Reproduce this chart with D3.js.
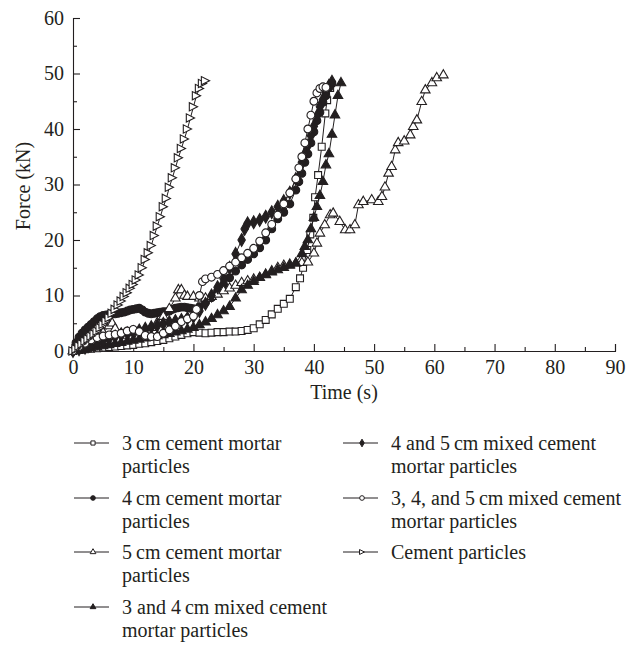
<!DOCTYPE html>
<html>
<head>
<meta charset="utf-8">
<script src="https://cdn.jsdelivr.net/npm/d3@7"></script>
<style>
  body { margin: 0; background: #fff; }
  text { font-family: "Liberation Serif", "DejaVu Serif", serif; fill: #231f20; }
</style>
</head>
<body>
<svg id="chart" width="636" height="646"></svg>
<script>
// Force (kN) against time (s)
const xTicks = [0, 10, 20, 30, 40, 50, 60, 70, 80, 90];
const yTicks = [0, 10, 20, 30, 40, 50, 60];

const cm3 = [[0,0],[1,0.2],[2,0.3],[3,0.4],[4,0.5],[5,0.6],[6,0.7],[7,0.8],[8,0.9],[9,1],[10,1.1],[11,1.3],[12,1.4],[13,1.6],[14,1.8],[15,2],[16,2.3],[17,2.6],[18,2.9],[19,3.2],[20,3.4],[21,3.3],[22,3.2],[23,3.3],[24,3.4],[25,3.4],[26,3.5],[27,3.5],[28,3.6],[29,3.8],[30,4.1],[31,4.8],[32,5.6],[33,6.6],[34,7.6],[35,8.5],[36,9.4],[37,11.5],[37.7,13.1],[38.2,15],[38.9,18.2],[39.4,21],[39.9,24],[40.2,27.7],[40.7,31.7],[41.3,36.8],[41.9,42.8],[42.2,45.2],[42.7,47.4]];
const cm4 = [[0,0],[0.5,1.5],[1,2.5],[1.5,3.2],[2,3.8],[2.5,4.3],[3,4.8],[3.5,5.3],[4,5.8],[4.5,6.2],[5,6.4],[5.5,6.5],[6,6.6],[6.5,6.7],[7,6.7],[7.5,6.8],[8,6.9],[8.5,7],[9,7.2],[9.5,7.4],[10,7.5],[10.5,7.6],[11,7.7],[11.5,7.4],[12,7],[12.5,6.8],[13,6.7],[13.5,6.8],[14,6.9],[14.5,7],[15,7.1],[15.5,7.1],[16,7.2],[16.5,7.5],[17,7.7],[17.5,7.8],[18,7.9],[18.5,7.9],[19,7.8],[19.5,7.7],[20,7.6],[21,8],[22,8.8],[23,9.6],[24,10.8],[25,12],[26,13.2],[27,14.4],[28,15.5],[29,16.5],[30,17.5],[31,18.6],[32,20],[33,22],[34,23.8],[35,25],[36,26.5],[37,29],[37.5,30.5],[38,32],[38.5,34],[39,35.5],[39.5,37.5],[40,39.5],[40.5,41.5],[41,43],[41.5,44.8],[42,46],[42.5,47.5],[43,48.2]];
const cm5 = [[0,0],[1,1],[2,1.8],[3,2.4],[4,2.8],[5,3.3],[6,4.5],[6.5,5],[7,4],[8,3.2],[9,2.8],[10,2.7],[11,2.8],[12,3.4],[13,4.2],[14,5.1],[15,6.2],[16,7.6],[17,9.5],[17.5,11],[18,11],[18.5,10],[19,9.8],[20,9.8],[21,9.5],[22,9.5],[23,9.8],[24,10.2],[25,10.8],[26,11.3],[27,11.8],[28,12.3],[29,12.6],[30,12.9],[31,13.2],[32,13.8],[33,14.4],[34,15],[35,15.4],[36,15.6],[37,15.8],[38,15.9],[39,16],[40,17.6],[40.5,19.4],[41,21.2],[41.8,22.7],[42.7,24.5],[43.2,24.8],[44.3,23.3],[45.2,21.8],[46,21.8],[46.8,22.7],[47.4,26.3],[48.2,26.9],[49.6,27.2],[50.7,26.9],[51.3,27.8],[51.8,29.5],[52.4,32],[52.9,33.2],[53.5,36.2],[54,37.5],[55,37.8],[56,38.9],[56.5,40.4],[57.1,41.6],[57.9,44.9],[58.5,47],[59.6,48.3],[60.4,49.2],[61.5,49.7]];
const cm34 = [[0,0],[1,0.1],[2,0.3],[3,0.5],[4,0.7],[5,0.9],[6,1.1],[7,1.3],[8,1.5],[9,1.7],[10,1.9],[11,2.1],[12,2.3],[13,2.5],[14,2.7],[15,2.9],[16,3.1],[17,3.4],[18,3.6],[19,3.9],[20,4.2],[21,4.7],[22,5.2],[23,5.8],[24,6.5],[25,7.2],[26,8],[27,9.5],[28,11],[29,11.8],[30,12.5],[31,13.2],[32,13.7],[33,14.2],[34,14.6],[35,15],[36,15.4],[37,15.8],[38,17.5],[38.5,18.8],[39,20],[39.5,22],[40,24],[40.5,26],[41,28],[41.5,30.5],[42,33.5],[42.5,35.5],[43,39],[43.5,42.5],[44,46],[44.5,48.3]];
const cm45 = [[0,0],[1,0.3],[2,0.6],[3,1],[4,1.4],[5,1.8],[6,2.2],[7,2.6],[8,2.9],[9,3.2],[10,3.4],[11,3.7],[12,4],[13,4.3],[14,4.6],[15,4.9],[16,5.2],[17,5.4],[18,5.6],[19,5.9],[20,6.2],[21,7.2],[22,8.5],[23,10],[24,11.5],[25,13],[26,15],[27,17.5],[28,20],[28.5,22],[29,23],[30,23.2],[31,23.6],[32,24.2],[33,25],[34,26],[35,27],[36,28.5],[37,31],[38,34],[38.5,35.5],[39,37],[39.5,38.8],[40,40.5],[40.5,42.3],[41,44],[41.5,45.3],[42,46.5],[42.5,47.8],[43,48.5]];
const cm345 = [[0,0],[1,0.8],[2,1.4],[3,2],[4,2.4],[5,2.7],[6,2.9],[7,3],[8,3.2],[9,3.6],[10,3.9],[11,3.5],[12,2.8],[13,2.6],[14,2.6],[15,3.2],[16,3.8],[17,4.5],[18,5.3],[19,5.8],[20,6.3],[20.5,7.5],[21,10],[21.5,12.5],[22,13],[23,13.3],[24,13.8],[25,14.5],[26,15.3],[27,16],[28,16.8],[29,17.6],[30,18.5],[31,19.8],[32,21.3],[33,22.8],[34,24.5],[35,26.5],[36,28.5],[37,31],[37.5,33],[38,35],[38.5,37.5],[39,40],[39.5,42.5],[40,45],[40.5,46.5],[41,47.3],[41.5,47.6],[42,47.5]];
const cement = [[0,0],[0.5,0.4],[1,0.9],[1.5,1.3],[2,1.8],[2.5,2.2],[3,2.7],[3.5,3.1],[4,3.6],[4.5,4.2],[5,4.8],[5.5,5.4],[6,6],[6.5,6.8],[7,7.5],[7.5,8.3],[8,9],[8.5,9.8],[9,10.5],[9.5,11.3],[10,12],[10.5,12.8],[11,13.7],[11.5,15],[12,16.5],[12.5,17.7],[13,19],[13.5,20.8],[14,22.5],[14.5,24.2],[15,26],[15.5,27.5],[16,29.5],[16.5,31.2],[17,33],[17.5,34.8],[18,36.5],[18.5,38.2],[19,40],[19.5,42],[20,44],[20.5,46],[21,47.3],[21.5,48.2],[22,48.7]];

const seriesNames = [
  ["3\u2009cm cement mortar", "particles"],
  ["4\u2009cm cement mortar", "particles"],
  ["5\u2009cm cement mortar", "particles"],
  ["3 and 4\u2009cm mixed cement", "mortar particles"],
  ["4 and 5\u2009cm mixed cement", "mortar particles"],
  ["3, 4, and 5\u2009cm mixed cement", "mortar particles"],
  ["Cement particles"]
];
const seriesData = [cm3, cm4, cm5, cm34, cm45, cm345, cement];
const seriesMarks = ["square", "circle", "triangle", "triangleFill", "diamond", "circleOpen", "rightTri"];

const svg = d3.select('#chart');
const ink = '#231f20';
const fontSize = '20px';

const x = d3.scaleLinear().domain([0, 90]).range([73, 615]);
const y = d3.scaleLinear().domain([0, 60]).range([351, 18]);

// marker shapes, filled or open
function markPath(kind, s) {
  if (kind === 'rightTri') {
    const h = s * 0.55;
    return `M${h},0L${-h},${-h}L${-h},${h}Z`;
  }
  const types = {square: d3.symbolSquare, circle: d3.symbolCircle, circleOpen: d3.symbolCircle,
    triangle: d3.symbolTriangle, triangleFill: d3.symbolTriangle, diamond: d3.symbolDiamond};
  const k = kind.startsWith('triangle') ? 0.7 : 0.85;
  return d3.symbol().type(types[kind]).size(s * s * k)();
}
const filled = k => ['circle', 'triangleFill', 'diamond'].includes(k);

// axes (ticks point inward)
const gx = svg.append('g').attr('transform', 'translate(0,351)');
gx.call(d3.axisBottom(x).tickValues(xTicks).tickSize(-7).tickPadding(9));
svg.append('g').attr('transform', 'translate(0,351)')
  .call(d3.axisBottom(x).tickValues(d3.range(5, 90, 10)).tickSize(-4).tickFormat(''))
  .call(g => g.select('.domain').remove());

const gy = svg.append('g').attr('transform', 'translate(73,0)');
gy.call(d3.axisLeft(y).tickValues(yTicks).tickSize(-7).tickPadding(9));
svg.append('g').attr('transform', 'translate(73,0)')
  .call(d3.axisLeft(y).tickValues(d3.range(5, 60, 10)).tickSize(-4).tickFormat(''))
  .call(g => g.select('.domain').remove());

svg.selectAll('.domain, .tick line').attr('stroke', ink).attr('stroke-width', 1.1);
svg.selectAll('.tick text').style('font-size', fontSize).style('font-family', '"Liberation Serif", serif').attr('fill', ink);

svg.append('text').attr('x', 344).attr('y', 399).attr('text-anchor', 'middle')
  .style('font-size', fontSize).text('Time (s)');
svg.append('text').attr('transform', 'translate(30,186) rotate(-90)').attr('text-anchor', 'middle')
  .style('font-size', fontSize).text('Force (kN)');

// series
const line = d3.line().x(d => x(d[0])).y(d => y(d[1]));
seriesData.forEach((data, i) => {
  const kind = seriesMarks[i];
  const g = svg.append('g');
  g.append('path').datum(data).attr('d', line)
    .attr('fill', 'none').attr('stroke', ink).attr('stroke-width', 1);
  g.selectAll('path.mk').data(data).join('path').attr('class', 'mk')
    .attr('transform', d => `translate(${x(d[0])},${y(d[1])})`)
    .attr('d', markPath(kind, 7.5))
    .attr('fill', filled(kind) ? ink : '#fff')
    .attr('stroke', ink).attr('stroke-width', 1.1);
});

// legend, two columns
const legendPos = [[74, 443], [74, 498], [74, 552], [74, 607], [343, 443], [343, 498], [343, 552]];
seriesNames.forEach((lines, i) => {
  const [lx, ly] = legendPos[i];
  const kind = seriesMarks[i];
  const g = svg.append('g').attr('transform', `translate(${lx},${ly})`);
  g.append('line').attr('x1', 0).attr('x2', 35).attr('stroke', ink).attr('stroke-width', 1);
  g.append('path').attr('transform', 'translate(19,0)').attr('d', markPath(kind, 4.5))
    .attr('fill', filled(kind) ? ink : '#fff').attr('stroke', ink).attr('stroke-width', 1);
  lines.forEach((t, j) => {
    g.append('text').attr('x', 48).attr('y', 7 + j * 23).style('font-size', fontSize).text(t);
  });
});
</script>
</body>
</html>
